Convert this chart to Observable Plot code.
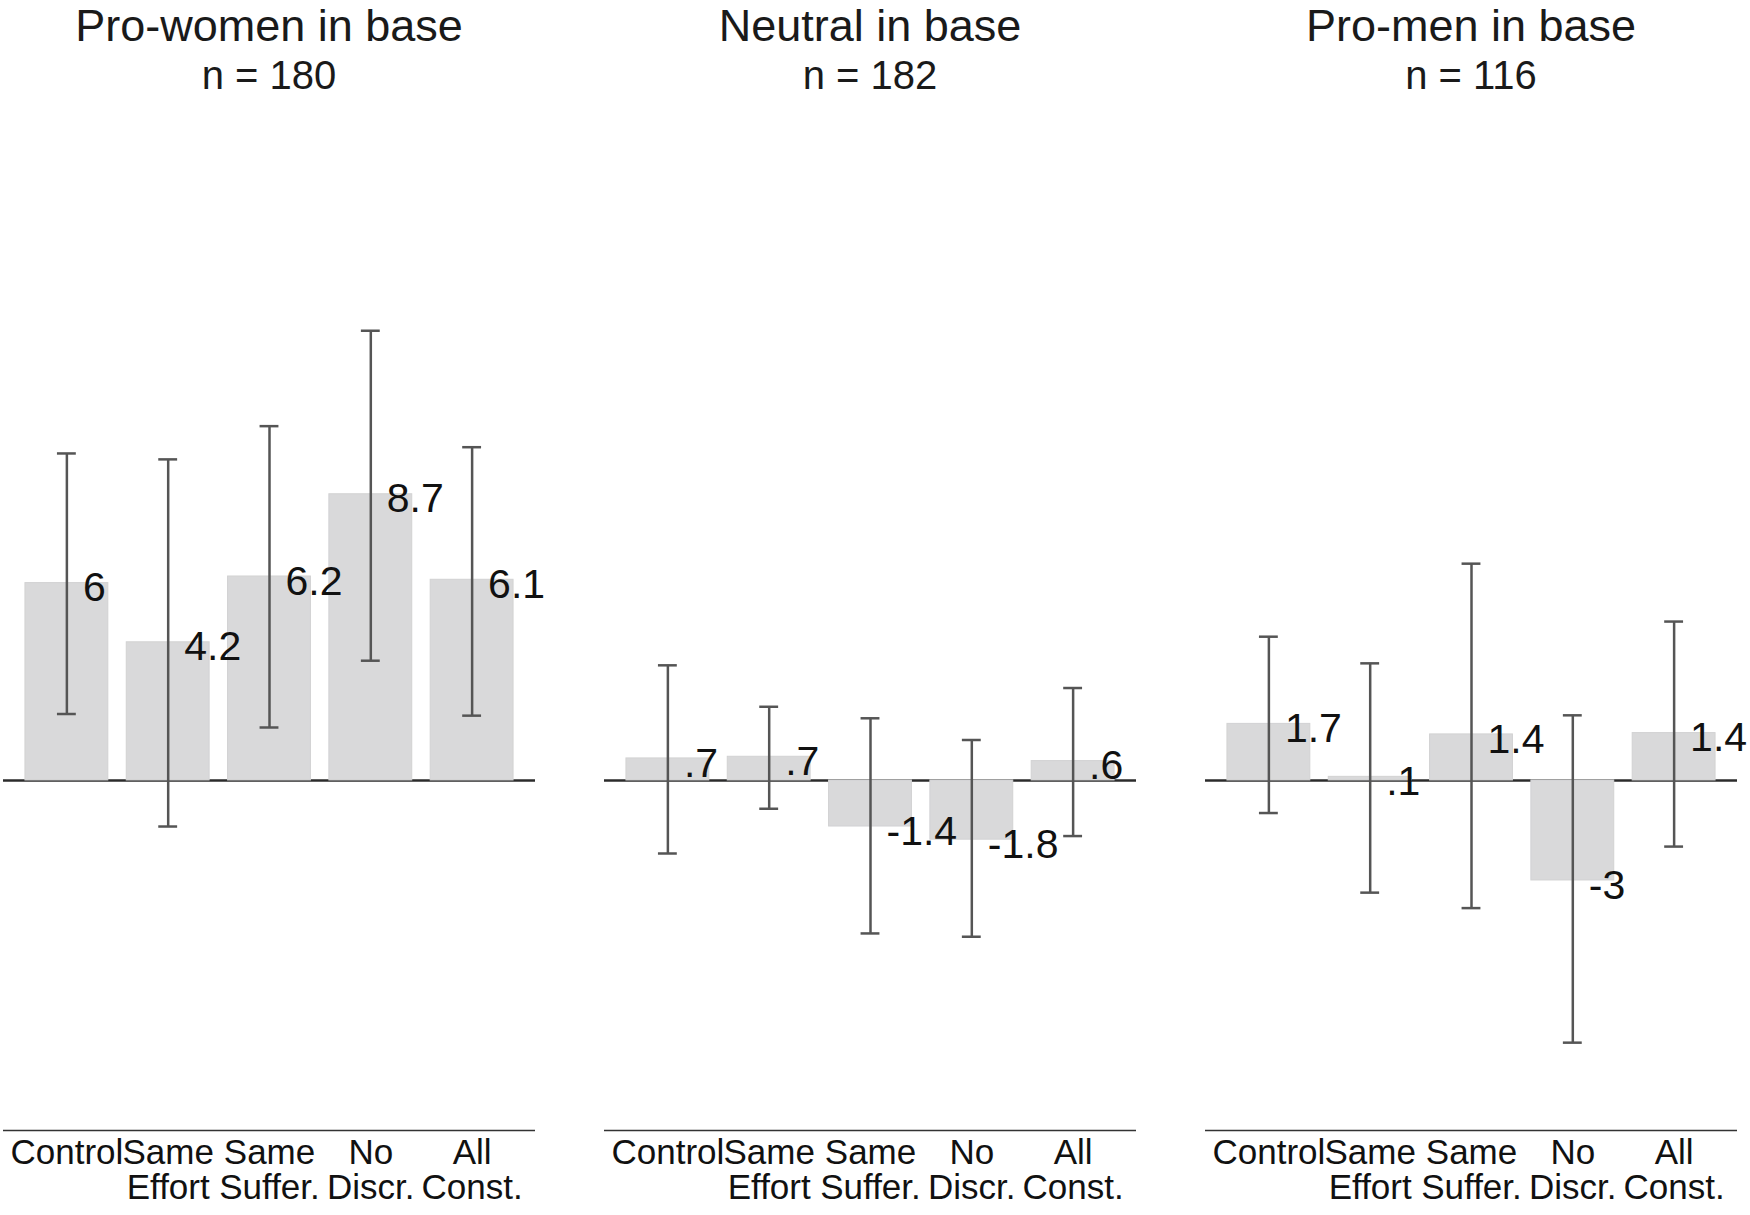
<!DOCTYPE html>
<html><head><meta charset="utf-8">
<script src="https://cdn.jsdelivr.net/npm/d3@7"></script>
<script src="https://cdn.jsdelivr.net/npm/@observablehq/plot@0.6"></script>
<style>
body{margin:0;background:#fff;font-family:"Liberation Sans",Arial,Helvetica,sans-serif;}
#chart{position:relative;width:1750px;height:1215px;overflow:hidden;background:#fff;}
.panel{position:absolute;top:0;}
.t1{font-size:45px;line-height:51px;height:51px;text-align:center;color:#1a1a1a;white-space:nowrap;}
.t2{font-size:40px;line-height:40px;height:40px;margin-top:4px;margin-bottom:5px;text-align:center;color:#1a1a1a;white-space:nowrap;}
svg{overflow:visible;display:block;}
</style></head><body><div id="chart"></div>
<script>
const categories = ["Control","Same Effort","Same Suffer.","No Discr.","All Const."];
const tickLabels = ["Control","Same\nEffort","Same\nSuffer.","No\nDiscr.","All\nConst."];
const panelTitles = ["Pro-women in base","Neutral in base","Pro-men in base"];
const panelN = [180,182,116];
const proWomenMean = [6.0,4.2,6.2,8.7,6.1];
const proWomenLo = [2.02,-1.40,1.61,3.64,1.97];
const proWomenHi = [9.94,9.76,10.77,13.67,10.13];
const neutralMean = [0.67,0.72,-1.40,-1.80,0.59];
const neutralLo = [-2.22,-0.86,-4.65,-4.75,-1.69];
const neutralHi = [3.50,2.24,1.89,1.23,2.81];
const proMenMean = [1.72,0.11,1.40,-3.04,1.44];
const proMenLo = [-0.99,-3.41,-3.88,-7.97,-2.01];
const proMenHi = [4.37,3.56,6.59,1.98,4.83];
const yDomain = [-10.64, 20];

const series = [
  [proWomenMean, proWomenLo, proWomenHi],
  [neutralMean, neutralLo, neutralHi],
  [proMenMean, proMenLo, proMenHi]
];
const panelLeft = [3, 604, 1205];
const W = 592, mL = 30, mR = 30, H = 1115, mT = 22, mB = 85;
const font = '"Liberation Sans",Arial,Helvetica,sans-serif';

function fmt(v) {
  let s = (Math.round(v * 10) / 10).toString();
  return s.replace(/^(-?)0\./, "$1.");
}

const chart = document.getElementById("chart");
series.forEach(([m, lo, hi], p) => {
  const rows = categories.map((c, i) => ({cat: c, mean: m[i], lo: lo[i], hi: hi[i]}));
  const div = document.createElement("div");
  div.className = "panel";
  div.style.left = (panelLeft[p] - mL) + "px";
  div.style.width = W + "px";
  const t1 = document.createElement("div");
  t1.className = "t1"; t1.textContent = panelTitles[p];
  const t2 = document.createElement("div");
  t2.className = "t2"; t2.textContent = "n = " + panelN[p];
  div.appendChild(t1); div.appendChild(t2);
  const svg = Plot.plot({
    width: W, height: H,
    marginLeft: mL, marginRight: mR, marginTop: mT, marginBottom: mB,
    style: {fontFamily: font, background: "transparent", overflow: "visible"},
    x: {domain: categories, paddingInner: 0.182, paddingOuter: 0.2166, round: false, label: null},
    y: {domain: yDomain, axis: null},
    marks: [
      Plot.ruleY([0], {stroke: "#2b2b2b", strokeWidth: 2.4}),
      Plot.barY(rows, {x: "cat", y: "mean", fill: "#d9d9da", stroke: "#d2d2d3", strokeWidth: 1}),
      Plot.ruleX(rows, {x: "cat", y1: "lo", y2: "hi", stroke: "#555", strokeWidth: 2.5}),
      Plot.tickY(rows, {x: "cat", y: "lo", stroke: "#555", strokeWidth: 2.5, insetLeft: 32, insetRight: 32}),
      Plot.tickY(rows, {x: "cat", y: "hi", stroke: "#555", strokeWidth: 2.5, insetLeft: 32, insetRight: 32}),
      Plot.text(rows, {x: "cat", y: "mean", text: d => fmt(d.mean), textAnchor: "start", dx: 16, dy: 5, fontSize: 41, fill: "#111"}),
      Plot.ruleY([yDomain[0]], {stroke: "#333", strokeWidth: 1.5}),
      Plot.axisX({tickSize: 0, tickPadding: 9, fontSize: 35, lineHeight: 1, fill: "#111", label: null,
                  tickFormat: d => tickLabels[categories.indexOf(d)]})
    ]
  });
  div.appendChild(svg);
  chart.appendChild(div);
});
</script></body></html>
